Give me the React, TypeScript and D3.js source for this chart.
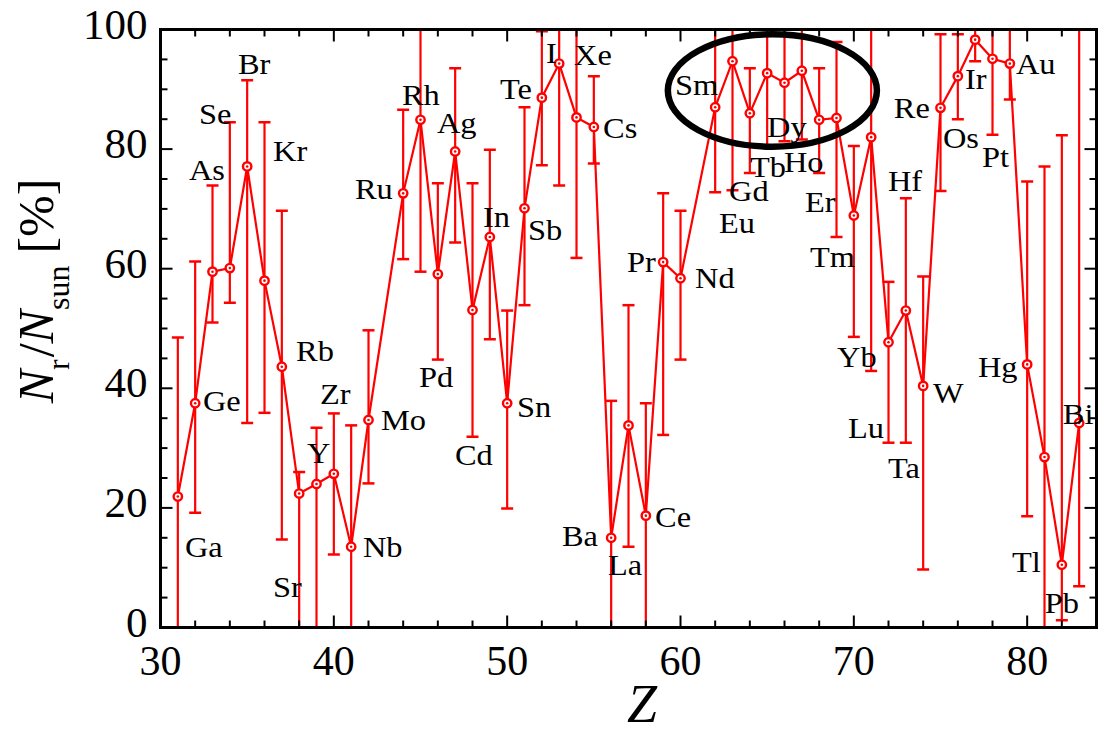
import React from "react";
import * as d3 from "d3";

// r-process fraction per element
const elements = ["Ga","Ge","As","Se","Br","Kr","Rb","Sr","Y","Zr","Nb","Mo","Ru","Rh","Pd","Ag","Cd","In","Sn","Sb","Te","I","Xe","Cs","Ba","La","Ce","Pr","Nd","Sm","Eu","Gd","Tb","Dy","Ho","Er","Tm","Yb","Lu","Hf","Ta","W","Re","Os","Ir","Pt","Au","Hg","Tl","Pb","Bi"];
const atomicNumbers = [31,32,33,34,35,36,37,38,39,40,41,42,44,45,46,47,48,49,50,51,52,53,54,55,56,57,58,59,60,62,63,64,65,66,67,68,69,70,71,72,73,74,75,76,77,78,79,80,81,82,83];
const ratio = [21.9,37.5,59.5,60.1,77.1,58.0,43.6,22.4,24.0,25.7,13.5,34.7,72.6,84.9,59.1,79.6,53.1,65.3,37.5,70.1,88.6,94.3,85.3,83.7,15.0,33.8,18.7,61.1,58.4,87.0,94.7,86.0,92.7,91.1,93.1,84.9,85.2,68.9,82.0,47.7,53.0,40.4,86.9,92.2,98.3,95.1,94.3,44.0,28.5,10.5,34.2];
const upper = [48.5,61.2,73.9,84.5,91.5,84.5,69.7,26.0,33.4,35.8,33.8,49.7,86.6,110,74.3,93.5,74.3,79.9,53.0,87.0,99.7,115,109,92.2,37.9,53.9,37.5,72.6,69.7,101,116,93.5,105,100.9,105,93.5,97.9,80.5,121,57.8,71.8,58.7,99.2,99.2,102,108,101,74.6,77.1,82.3,112];
const lower = [-26,19.2,51.0,54.3,34.2,35.9,14.7,-19,-6,12.2,-7,24.1,61.6,59.5,44.8,64.4,31.9,48.2,19.9,53.9,77.3,73.9,61.8,77.6,-8,13.5,-1,32.2,44.8,72.8,73.1,76.0,80.3,81.3,81.6,76.0,65.3,48.6,42.9,30.9,30.9,9.7,73.0,85.0,94.7,82.4,88.3,18.6,-20,1.2,6.9];

// where each element name sits, in (Z, %) units: left edge / baseline
const labelZ = [31.41,32.45,31.64,32.22,34.47,36.49,37.82,36.49,38.45,39.2,41.68,42.72,41.22,43.93,44.91,45.95,46.99,48.61,50.57,51.2,49.59,52.24,53.86,55.53,53.16,55.82,58.53,56.91,60.84,59.68,62.22,62.8,64.01,64.99,65.97,67.18,67.47,69.03,69.66,71.97,71.97,74.57,72.31,75.14,76.41,77.39,79.35,77.16,79.12,81.02,82.06];
const labelV = [11.8,36.2,74.8,84.2,92.6,78.0,44.6,5.1,27.5,37.4,11.8,33.0,71.7,87.4,40.2,82.7,27.2,67.0,35.2,64.8,88.4,94.4,94.1,81.9,13.6,8.8,16.8,59.4,56.8,89.0,66.0,71.3,75.3,82.0,76.2,69.5,60.3,43.6,31.7,73.0,25.0,37.5,85.2,80.2,90.0,77.0,92.6,41.9,9.3,2.4,34.0];

const xTicks = [30, 40, 50, 60, 70, 80];
const yTicks = [0, 20, 40, 60, 80, 100];

const W = 1108;
const H = 731;
const red = "#ff0000";
const font = "Liberation Serif, Times New Roman, Times, serif";

const App = () => {
  const x = d3.scaleLinear().domain([30, 84]).range([160.5, 1096.5]);
  const y = d3.scaleLinear().domain([0, 100]).range([627.5, 29.5]);
  const [x0, x1] = x.range();
  const [y0, y1] = y.range();

  const pts = atomicNumbers.map((z, i) => ({ z, v: ratio[i], lo: lower[i], hi: upper[i] }));
  const line = d3.line<any>().x(d => x(d.z)).y(d => y(d.v));

  const xMinor = d3.range(32, 84, 2).filter(v => v % 10 !== 0);
  const yMinor = d3.range(5, 100, 5).filter(v => v % 20 !== 0);

  // circled region around the rare earths
  const ec = { z: 65.3, v: 89.8 };
  const erx = x(ec.z + 6.03) - x(ec.z);
  const ery = y(ec.v - 9.4) - y(ec.v);

  return (
    <svg width={W} height={H} style={{ position: "absolute", left: 0, top: 0, background: "#fff", fontFamily: font }}>
      <defs>
        <clipPath id="frame">
          <rect x={x0} y={y1} width={x1 - x0} height={y0 - y1} />
        </clipPath>
      </defs>

      <g clipPath="url(#frame)" stroke={red} strokeWidth={2.2} fill="none">
        {pts.map((d, i) => (
          <g key={i}>
            <line x1={x(d.z)} x2={x(d.z)} y1={y(d.lo)} y2={y(d.hi)} />
            <line x1={x(d.z) - 6} x2={x(d.z) + 6} y1={y(d.lo)} y2={y(d.lo)} strokeWidth={2.5} />
            <line x1={x(d.z) - 6} x2={x(d.z) + 6} y1={y(d.hi)} y2={y(d.hi)} strokeWidth={2.5} />
          </g>
        ))}
        <path d={line(pts) || ""} />
      </g>

      {pts.map((d, i) => (
        <g key={"m" + i}>
          <circle cx={x(d.z)} cy={y(d.v)} r={4.2} fill="#fff" stroke={red} strokeWidth={2.4} />
          <circle cx={x(d.z)} cy={y(d.v)} r={1.3} fill={red} />
        </g>
      ))}

      {elements.map((e, i) => (
        <text key={"l" + e} transform={`translate(${x(labelZ[i])},${y(labelV[i])}) scale(1.08,1)`} fontSize={30} fill="#000">
          {e}
        </text>
      ))}

      <ellipse cx={x(ec.z)} cy={y(ec.v)} rx={erx} ry={ery} fill="none" stroke="#000" strokeWidth={6.5} />

      {/* frame and ticks */}
      <g stroke="#000" strokeWidth={2}>
        {xTicks.map(t => (
          <g key={"xt" + t}>
            <line x1={x(t)} x2={x(t)} y1={y0} y2={y0 - 12} />
            <line x1={x(t)} x2={x(t)} y1={y1} y2={y1 + 12} />
          </g>
        ))}
        {xMinor.map(t => (
          <g key={"xm" + t}>
            <line x1={x(t)} x2={x(t)} y1={y0} y2={y0 - 7} />
            <line x1={x(t)} x2={x(t)} y1={y1} y2={y1 + 7} />
          </g>
        ))}
        {yTicks.map(t => (
          <g key={"yt" + t}>
            <line x1={x0} x2={x0 + 12} y1={y(t)} y2={y(t)} />
            <line x1={x1} x2={x1 - 12} y1={y(t)} y2={y(t)} />
          </g>
        ))}
        {yMinor.map(t => (
          <g key={"ym" + t}>
            <line x1={x0} x2={x0 + 7} y1={y(t)} y2={y(t)} />
            <line x1={x1} x2={x1 - 7} y1={y(t)} y2={y(t)} />
          </g>
        ))}
      </g>
      <rect x={x0} y={y1} width={x1 - x0} height={y0 - y1} fill="none" stroke="#000" strokeWidth={3} />

      {xTicks.map(t => (
        <text key={"xl" + t} x={x(t)} y={675} textAnchor="middle" fontSize={42} fill="#000">
          {t}
        </text>
      ))}
      {yTicks.map(t => (
        <text key={"yl" + t} x={x0 - 13} y={y(t) + 9} textAnchor="end" fontSize={43} fill="#000">
          {t}
        </text>
      ))}

      <text x={642} y={722} textAnchor="middle" fontSize={54} fontStyle="italic" fill="#000">
        Z
      </text>

      <text transform="translate(53,291) rotate(-90)" textAnchor="middle" fontSize={50} fill="#000">
        <tspan fontStyle="italic">N</tspan>
        <tspan fontSize={32} dy={16}>r</tspan>
        <tspan dy={-16} dx={2}>/</tspan>
        <tspan fontStyle="italic">N</tspan>
        <tspan fontSize={32} dy={16}>sun</tspan>
        <tspan dy={-16} dx={12}>[%]</tspan>
      </text>
    </svg>
  );
};

export default App;
